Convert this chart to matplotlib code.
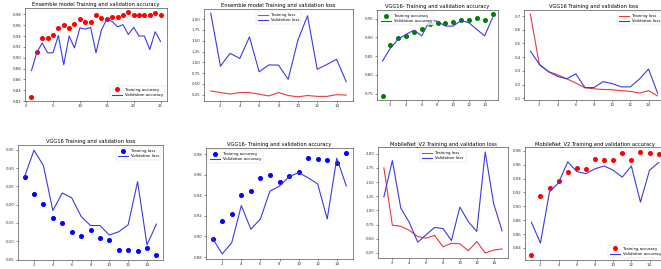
import numpy as np
import matplotlib
matplotlib.use("Agg")
import matplotlib.pyplot as plt

# epochs
ep25 = np.arange(1, 26)
ep15 = np.arange(1, 16)

# Ensemble model accuracy
ens_train_acc = [0.828, 0.910, 0.937, 0.936, 0.942, 0.955, 0.960, 0.955, 0.962, 0.972,
                 0.966, 0.966, 0.978, 0.973, 0.972, 0.976, 0.976, 0.978, 0.984, 0.979,
                 0.978, 0.979, 0.979, 0.983, 0.979]
ens_val_acc = [0.876, 0.910, 0.927, 0.909, 0.909, 0.941, 0.887, 0.940, 0.918, 0.955,
               0.953, 0.956, 0.909, 0.951, 0.971, 0.967, 0.957, 0.961, 0.943, 0.956,
               0.940, 0.940, 0.915, 0.948, 0.930]

# Ensemble model loss
ens_train_loss = [0.335, 0.30, 0.265, 0.30, 0.30, 0.26, 0.22, 0.30, 0.23, 0.20,
                  0.23, 0.21, 0.21, 0.25, 0.24]
ens_val_loss = [2.14, 0.91, 1.21, 1.09, 1.59, 0.78, 0.94, 0.935, 0.605, 1.51,
                2.08, 0.84, 0.95, 1.07, 0.55]

# VGG16- accuracy (green)
vgg_train_acc = [0.744, 0.880, 0.897, 0.904, 0.913, 0.923, 0.936, 0.939, 0.939, 0.941,
                 0.945, 0.947, 0.952, 0.945, 0.962]
vgg_val_acc = [0.837, 0.871, 0.895, 0.908, 0.919, 0.904, 0.945, 0.943, 0.930, 0.930,
               0.945, 0.939, 0.921, 0.904, 0.952]

# VGG16 loss (lines)
vgg_train_loss = [0.714, 0.342, 0.294, 0.271, 0.242, 0.211, 0.176, 0.169, 0.164, 0.162,
                  0.155, 0.150, 0.138, 0.155, 0.117]
vgg_val_loss = [0.444, 0.347, 0.294, 0.259, 0.242, 0.278, 0.178, 0.178, 0.221, 0.207,
                0.183, 0.183, 0.240, 0.313, 0.136]

# VGG16 loss (dots)
vgg2_train_loss = [0.277, 0.228, 0.203, 0.163, 0.149, 0.124, 0.115, 0.131, 0.110, 0.103,
                   0.075, 0.075, 0.073, 0.081, 0.063]
vgg2_val_loss = [0.277, 0.349, 0.307, 0.184, 0.232, 0.219, 0.168, 0.143, 0.143, 0.117,
                 0.126, 0.145, 0.263, 0.090, 0.147]

# VGG16- accuracy (blue dots)
vgg2_train_acc = [0.898, 0.915, 0.922, 0.940, 0.944, 0.957, 0.960, 0.953, 0.959, 0.963,
                  0.976, 0.975, 0.974, 0.971, 0.981]
vgg2_val_acc = [0.898, 0.883, 0.894, 0.930, 0.907, 0.917, 0.944, 0.949, 0.958, 0.962,
                0.957, 0.951, 0.917, 0.976, 0.949]

# MobileNet_V2 loss
mob_train_loss = [1.75, 0.74, 0.72, 0.65, 0.54, 0.51, 0.56, 0.36, 0.42, 0.41,
                  0.29, 0.45, 0.25, 0.30, 0.32]
mob_val_loss = [1.24, 1.88, 1.04, 0.79, 0.44, 0.57, 0.70, 0.68, 0.47, 1.06,
                0.80, 0.63, 2.03, 1.12, 0.64]

# MobileNet_V2 accuracy
mob_train_acc = [0.830, 0.915, 0.926, 0.936, 0.949, 0.955, 0.954, 0.968, 0.966, 0.966,
                 0.977, 0.966, 0.978, 0.977, 0.975]
mob_val_acc = [0.877, 0.847, 0.921, 0.934, 0.964, 0.950, 0.947, 0.954, 0.958, 0.952,
               0.942, 0.958, 0.906, 0.952, 0.963]

W, H = 661, 269
fig = plt.figure(figsize=(W / 100, H / 100), dpi=100)

RED = "#e8393b"
BLUE = "#3a3ae6"
FS_T = 3.7
FS = 2.8
MS = 2.6


def make_ax(l, t, r, b):
    ax = fig.add_axes([l / W, 1 - b / H, (r - l) / W, (b - t) / H])
    for s in ax.spines.values():
        s.set_linewidth(0.5)
        s.set_color("#555555")
    ax.tick_params(labelsize=FS, length=1.5, width=0.4, pad=1, colors="#333333")
    return ax


def finish(ax, title, loc):
    ax.set_title(title, fontsize=FS_T, pad=1.5)
    leg = ax.legend(loc=loc, fontsize=FS, handlelength=2.5, borderpad=0.5,
                    labelspacing=0.4, markerscale=1.0)
    leg.get_frame().set_linewidth(0.3)


# row 1
ax = make_ax(25, 8, 167, 101)
ax.plot(ep25, ens_train_acc, "o", color="red", ms=MS, label="Training accuracy")
ax.plot(ep25, ens_val_acc, color=BLUE, lw=0.8, label="Validation accuracy")
ax.set_yticks(np.arange(0.82, 0.981, 0.02))
finish(ax, "Ensemble model Training and validation accuracy", "lower right")

ax = make_ax(204, 9, 353, 101)
ax.plot(ep15, ens_train_loss, color=RED, lw=0.8, label="Training loss")
ax.plot(ep15, ens_val_loss, color=BLUE, lw=0.8, label="Validation loss")
ax.set_xticks(range(2, 15, 2))
finish(ax, "Ensemble model Training and validation loss", "upper center")

ax = make_ax(377, 10, 498, 100)
ax.plot(ep15, vgg_train_acc, "o", color="green", ms=MS, label="Training accuracy")
ax.plot(ep15, vgg_val_acc, color=BLUE, lw=0.8, label="Validation accuracy")
ax.set_xticks(range(2, 15, 2))
ax.set_yticks([0.75, 0.80, 0.85, 0.90, 0.95])
finish(ax, "VGG16- Training and validation accuracy", "upper left")

ax = make_ax(524, 10, 664, 100)
ax.plot(ep15, vgg_train_loss, color=RED, lw=0.8, label="Training loss")
ax.plot(ep15, vgg_val_loss, color=BLUE, lw=0.8, label="Validation loss")
ax.set_xticks(range(2, 15, 2))
finish(ax, "VGG16 Training and validation loss", "upper right")

# row 2
ax = make_ax(18, 145, 163, 260)
ax.plot(ep15, vgg2_train_loss, "o", color="blue", ms=MS, label="Training loss")
ax.plot(ep15, vgg2_val_loss, color=BLUE, lw=0.8, label="Validation loss")
ax.set_xticks(range(2, 15, 2))
finish(ax, "VGG16 Training and validation loss", "upper right")

ax = make_ax(206, 148, 353, 259)
ax.plot(ep15, vgg2_train_acc, "o", color="blue", ms=MS, label="Training accuracy")
ax.plot(ep15, vgg2_val_acc, color=BLUE, lw=0.8, label="Validation accuracy")
ax.set_xticks(range(2, 15, 2))
finish(ax, "VGG16- Training and validation accuracy", "upper left")

ax = make_ax(378, 147, 508, 258)
ax.plot(ep15, mob_train_loss, color=RED, lw=0.8, label="Training loss")
ax.plot(ep15, mob_val_loss, color=BLUE, lw=0.8, label="Validation loss")
ax.set_xticks(range(2, 15, 2))
finish(ax, "MobileNet_V2 Training and validation loss", "upper center")

ax = make_ax(525, 147, 665, 260)
ax.plot(ep15, mob_train_acc, "o", color="red", ms=MS, label="Training accuracy")
ax.plot(ep15, mob_val_acc, color=BLUE, lw=0.8, label="Validation accuracy")
ax.set_xticks(range(2, 15, 2))
finish(ax, "MobileNet_V2 Training and validation accuracy", "lower right")

fig.savefig("out.png", dpi=100)
